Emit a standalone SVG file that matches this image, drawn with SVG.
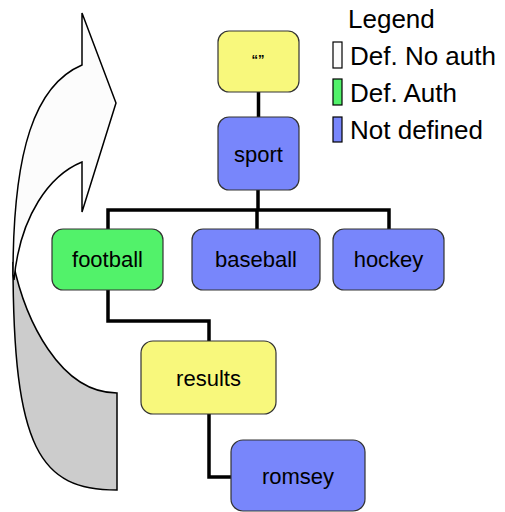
<svg xmlns="http://www.w3.org/2000/svg" width="505" height="512" viewBox="0 0 505 512">
  <style>
    .node rect { stroke: #333; stroke-width: 1.2; }
    .noauth { fill: #fcfcfc; }
    .yellow { fill: #f8f87c; }
    .green { fill: #52f26a; }
    .blue { fill: #7886fb; }
    .label { font-family: "Liberation Sans", Arial, sans-serif; font-size: 22px; fill: #000; text-anchor: middle; }
    .legend { font-family: "Liberation Sans", Arial, sans-serif; font-size: 26px; fill: #000; }
    .key { stroke: #000; stroke-width: 1.2; }
    .wire { fill: none; stroke: #000; stroke-width: 3.5; stroke-linejoin: miter; stroke-linecap: butt; }
    .arrow { stroke: #000; stroke-width: 1.5; stroke-linejoin: miter; }
  </style>

  <!-- curved arrow on the left: back (shaded) part first, front part over it -->
  <g id="curved-arrow">
    <path class="arrow" fill="#cccccc" d="M13,262 C13,450 40,490 117,490 L117,393 C60,393 25,320 13,262 Z"/>
    <path class="arrow" fill="#fcfcfc" d="M82,65 C35,85 13,150 13,275 L14,280 C20,215 50,175 82,162 L82,212 L116,103 L82,13 Z"/>
  </g>

  <!-- connectors -->
  <g id="connectors">
    <path class="wire" d="M258.5,92 V117"/>
    <path class="wire" d="M258,190 V210"/>
    <path class="wire" d="M108,229 V210 H389 V229"/>
    <path class="wire" d="M257,210 V229"/>
    <path class="wire" d="M108,290 V321 H209 V341"/>
    <path class="wire" d="M209,414 V477 H231"/>
  </g>

  <!-- nodes -->
  <g id="root" class="node">
    <rect class="yellow" x="218" y="31" width="81" height="61" rx="11"/>
    <text x="258" y="63.5" font-family="Liberation Sans, Arial, sans-serif" font-size="13" font-weight="bold" text-anchor="middle">“”</text>
  </g>
  <g id="sport" class="node">
    <rect class="blue" x="218" y="117" width="81" height="73" rx="11"/>
    <text class="label" x="258.5" y="162">sport</text>
  </g>
  <g id="football" class="node">
    <rect class="green" x="52" y="229" width="111" height="61" rx="11"/>
    <text class="label" x="107.5" y="267">football</text>
  </g>
  <g id="baseball" class="node">
    <rect class="blue" x="192" y="229" width="128" height="61" rx="11"/>
    <text class="label" x="256" y="267">baseball</text>
  </g>
  <g id="hockey" class="node">
    <rect class="blue" x="333" y="229" width="111" height="61" rx="11"/>
    <text class="label" x="388.5" y="267">hockey</text>
  </g>
  <g id="results" class="node">
    <rect class="yellow" x="141" y="341" width="135" height="73" rx="12"/>
    <text class="label" x="208.5" y="386">results</text>
  </g>
  <g id="romsey" class="node">
    <rect class="blue" x="231" y="440" width="134" height="71" rx="12"/>
    <text class="label" x="298" y="484">romsey</text>
  </g>

  <!-- legend -->
  <g id="legend">
    <text class="legend" x="348" y="28">Legend</text>
    <rect class="key noauth" x="333" y="42" width="9" height="26"/>
    <text class="legend" x="350" y="65">Def. No auth</text>
    <rect class="key green" x="333" y="79" width="9" height="26"/>
    <text class="legend" x="350" y="102">Def. Auth</text>
    <rect class="key blue" x="333" y="117" width="9" height="25"/>
    <text class="legend" x="350" y="139">Not defined</text>
  </g>
</svg>
